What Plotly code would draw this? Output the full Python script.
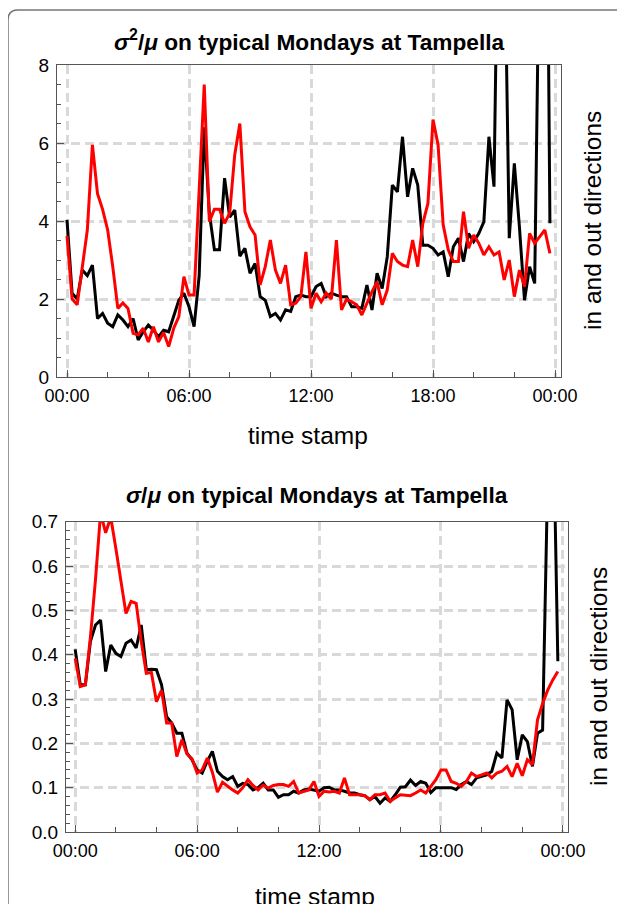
import plotly.graph_objects as go

W, H = 625, 904
OFF = 8  # the page body adds an 8px margin; compensate so screen positions match

# ---------------- data (15-minute steps over a Monday) ----------------
hours = [i * 0.25 for i in range(96)]
tick_hours = [0, 6, 12, 18, 24]
tick_labels = ["00:00", "06:00", "12:00", "18:00", "00:00"]

# sigma^2 / mu  (top panel)
var_black = [4.03, 2.15, 2.0, 2.74, 2.6, 2.87, 1.5, 1.63, 1.38, 1.29, 1.59, 1.46,
             1.29, 1.5, 0.95, 1.16, 1.33, 1.2, 1.03, 1.2, 1.16, 1.55, 1.97, 2.15,
             1.8, 1.29, 2.6, 6.4, 4.2, 3.26, 3.26, 5.1, 4.1, 4.28, 3.1, 3.3,
             2.66, 2.91, 2.06, 1.97, 1.55, 1.63, 1.46, 1.72, 1.68, 2.06, 2.1, 2.06,
             2.06, 2.32, 2.4, 2.06, 2.15, 2.1, 2.06, 2.06, 1.8, 1.8, 1.76, 2.36,
             1.72, 2.66, 2.27, 3.08, 4.92, 4.75, 6.16, 4.62, 5.35, 4.92, 3.38, 3.38,
             3.3, 3.13, 3.21, 2.57, 3.34, 3.56, 2.96, 3.68, 3.47, 3.68, 3.98, 6.16,
             4.88, 14.0, 12.0, 3.56, 5.48, 3.85, 1.97, 2.83, 2.4, 12.0, 20.0, 3.94]
var_red = [3.62, 2.0, 1.85, 2.8, 3.77, 5.95, 4.7, 4.3, 3.77, 2.83, 1.76, 1.9,
           1.76, 1.12, 1.08, 1.25, 0.9, 1.29, 0.9, 1.14, 0.78, 1.25, 1.55, 2.57,
           2.1, 2.1, 4.7, 7.5, 3.98, 4.3, 4.3, 3.94, 4.2, 5.7, 6.5, 4.24,
           3.85, 3.64, 2.36, 2.83, 3.51, 2.74, 2.4, 2.87, 1.85, 1.89, 2.06, 3.21,
           1.76, 2.15, 1.93, 2.15, 2.0, 3.51, 1.72, 2.0, 1.93, 1.85, 1.59, 1.89,
           2.19, 2.44, 1.85, 2.23, 3.17, 2.96, 2.87, 2.83, 3.51, 2.83, 3.94, 4.45,
           6.6, 5.95, 3.9, 3.26, 2.96, 2.96, 4.24, 3.3, 3.64, 3.43, 3.13, 3.34,
           3.13, 3.21, 2.49, 3.0, 2.06, 2.74, 2.32, 3.68, 3.43, 3.6, 3.77, 3.17]

# sigma / mu  (bottom panel)
cv_black = [0.412, 0.332, 0.332, 0.43, 0.467, 0.478, 0.362, 0.422, 0.403, 0.396, 0.426, 0.433,
            0.415, 0.467, 0.366, 0.367, 0.366, 0.332, 0.26, 0.246, 0.223, 0.223, 0.178, 0.163,
            0.14, 0.133, 0.16, 0.182, 0.137, 0.125, 0.118, 0.125, 0.103, 0.11, 0.107, 0.095,
            0.1, 0.11, 0.095, 0.095, 0.078, 0.084, 0.084, 0.092, 0.088, 0.095, 0.097, 0.095,
            0.092, 0.1, 0.101, 0.095, 0.095, 0.092, 0.088, 0.088, 0.084, 0.082, 0.073, 0.08,
            0.065, 0.077, 0.069, 0.084, 0.101, 0.102, 0.117, 0.105, 0.114, 0.11, 0.089, 0.1,
            0.1, 0.1, 0.1, 0.096, 0.107, 0.114, 0.107, 0.122, 0.125, 0.129, 0.137, 0.178,
            0.167, 0.298, 0.276, 0.163, 0.219, 0.204, 0.148, 0.223, 0.23, 0.8, 1.0, 0.385]
cv_red = [0.392, 0.328, 0.332, 0.44, 0.57, 0.72, 0.675, 0.71, 0.64, 0.57, 0.493, 0.52,
          0.516, 0.43, 0.358, 0.36, 0.294, 0.32, 0.246, 0.246, 0.17, 0.208, 0.176, 0.165,
          0.133, 0.14, 0.167, 0.135, 0.09, 0.112, 0.103, 0.095, 0.088, 0.1, 0.118, 0.105,
          0.095, 0.106, 0.099, 0.105, 0.107, 0.107, 0.103, 0.114, 0.088, 0.092, 0.095, 0.114,
          0.08, 0.092, 0.09, 0.092, 0.088, 0.122, 0.084, 0.084, 0.084, 0.082, 0.073, 0.084,
          0.084, 0.088, 0.069, 0.077, 0.084, 0.083, 0.082, 0.088, 0.095, 0.088, 0.103, 0.118,
          0.14, 0.14, 0.114, 0.11, 0.103, 0.114, 0.133, 0.125, 0.129, 0.133, 0.122, 0.133,
          0.137, 0.148, 0.125, 0.155, 0.127, 0.163, 0.152, 0.253, 0.29, 0.32, 0.343, 0.362]

# ---------------- helpers (screen pixels -> paper fractions) ----------------
def px_x(x):
    return (x - OFF) / W

def px_y(y):
    return 1 - (y - OFF) / H

FONT = "Liberation Sans, Arial, sans-serif"
FRAME = "#555555"
GRID = "#d9d9d9"

fig = go.Figure()
fig.add_trace(go.Scatter(x=hours, y=var_black, mode="lines", line=dict(color="black", width=3),
                         xaxis="x", yaxis="y", showlegend=False))
fig.add_trace(go.Scatter(x=hours, y=var_red, mode="lines", line=dict(color="#ff0000", width=3),
                         xaxis="x", yaxis="y", showlegend=False))
fig.add_trace(go.Scatter(x=hours, y=cv_black, mode="lines", line=dict(color="black", width=3),
                         xaxis="x2", yaxis="y2", showlegend=False))
fig.add_trace(go.Scatter(x=hours, y=cv_red, mode="lines", line=dict(color="#ff0000", width=3),
                         xaxis="x2", yaxis="y2", showlegend=False))

def xaxis_cfg(domain, rng, anchor):
    minor_vals = [h for h in range(0, 25, 2) if h % 6 != 0]
    return dict(domain=domain, range=rng, anchor=anchor,
                tickmode="array", tickvals=tick_hours, ticktext=tick_labels,
                ticks="inside", ticklen=7, tickwidth=1, tickcolor=FRAME,
                minor=dict(tickmode="array", tickvals=minor_vals, ticks="inside",
                           ticklen=5, tickwidth=1, tickcolor=FRAME, showgrid=False),
                showline=True, linecolor=FRAME, linewidth=1.3, mirror=True,
                showgrid=True, gridcolor=GRID, gridwidth=3, griddash="9px,5px",
                zeroline=False, tickfont=dict(family=FONT, size=18, color="black"),
                ticklabelstandoff=2, automargin=False)

def yaxis_cfg(domain, rng, anchor, major, minor, fmt):
    return dict(domain=domain, range=rng, anchor=anchor,
                dtick=major, tick0=0, tickformat=fmt,
                ticks="inside", ticklen=7, tickwidth=1, tickcolor=FRAME,
                minor=dict(dtick=minor, tick0=0, ticks="inside", ticklen=4,
                           tickwidth=1, tickcolor=FRAME, showgrid=False),
                showline=True, linecolor=FRAME, linewidth=1.3, mirror=True,
                showgrid=True, gridcolor=GRID, gridwidth=3, griddash="9px,5px",
                zeroline=False, tickfont=dict(family=FONT, size=19, color="black"),
                ticklabelstandoff=3, automargin=False)

fig.update_layout(
    width=W, height=H, margin=dict(l=0, r=0, t=0, b=0, autoexpand=False),
    paper_bgcolor="white", plot_bgcolor="white",
    xaxis=xaxis_cfg([px_x(57), px_x(561)], [-0.492, 24.295], "y"),
    yaxis=yaxis_cfg([px_y(377), px_y(65)], [0, 8], "x", 2, 0.5, ".0f"),
    xaxis2=xaxis_cfg([px_x(66), px_x(568)], [-0.452, 24.25], "y2"),
    yaxis2=yaxis_cfg([px_y(832), px_y(521.7)], [0, 0.7], "x2", 0.1, 0.02, ".1f"),
)

annots = [
    dict(text="<b><i>σ</i><sup>2</sup>/<i>μ</i> on typical Mondays at Tampella</b>",
         x=px_x(309), y=px_y(40), size=22.7, angle=0),
    dict(text="<b><i>σ</i>/<i>μ</i> on typical Mondays at Tampella</b>",
         x=px_x(317), y=px_y(495), size=22.7, angle=0),
    dict(text="time stamp", x=px_x(308), y=px_y(436), size=24.5, angle=0),
    dict(text="time stamp", x=px_x(315), y=px_y(896), size=24.5, angle=0),
    dict(text="in and out directions", x=px_x(592), y=px_y(221), size=24.5, angle=-90),
    dict(text="in and out directions", x=px_x(598), y=px_y(677), size=24.5, angle=-90),
]
for a in annots:
    fig.add_annotation(text=a["text"], x=a["x"], y=a["y"], xref="paper", yref="paper",
                       xanchor="center", yanchor="middle", showarrow=False,
                       textangle=a["angle"],
                       font=dict(family=FONT, size=a["size"], color="black"))

# outer rounded panel border (extends beyond the page on right and bottom)
x0, y0, r = 8, 10, 10
path = (f"M {px_x(x0)},{px_y(H + 20)} L {px_x(x0)},{px_y(y0 + r)} "
        f"Q {px_x(x0)},{px_y(y0)} {px_x(x0 + r)},{px_y(y0)} L {px_x(W + 20)},{px_y(y0)}")
fig.add_shape(type="path", path=path, xref="paper", yref="paper",
              line=dict(color="#777777", width=1.5))

fig.write_html("out.html")
